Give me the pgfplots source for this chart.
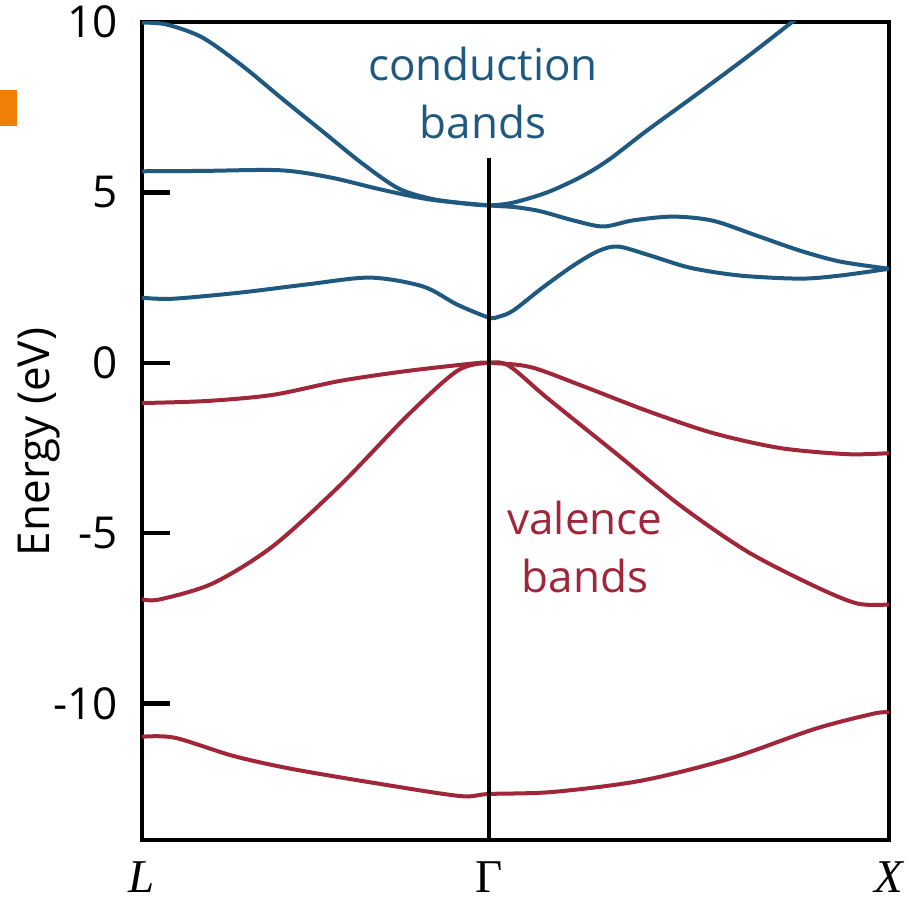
\documentclass[border=0pt]{standalone}
\usepackage{fontspec}
\setmainfont{Open Sans}
\newfontfamily\tnr{Liberation Serif}
\usepackage{pgfplots}
\pgfplotsset{compat=1.18}
\definecolor{cband}{RGB}{31,89,128}
\definecolor{vband}{RGB}{160,38,58}
\definecolor{orsq}{RGB}{240,128,10}
\begin{document}
\begin{tikzpicture}
\begin{axis}[
  scale only axis, width=373.5pt, height=409pt,
  xmin=0, xmax=1.866, ymin=-14, ymax=10,
  axis line style={line width=2.2pt},
  xtick={0,0.866,1.866},
  xticklabels={{\tnr\itshape L},{\tnr Γ},{\tnr\itshape X}},
  xtick style={draw=none},
  xticklabel style={font=\fontsize{23.5}{23.5}\selectfont, anchor=base, yshift=-26.5pt, inner sep=0pt},
  ytick={-10,-5,0,5,10},
  yticklabels={-10,-5,0,5,10},
  ytick pos=left,
  tick align=inside,
  major tick length=14pt,
  every tick/.style={line width=2.2pt, black},
  yticklabel style={font=\fontsize{22}{22}\selectfont, inner sep=0pt, xshift=-12pt},
  ylabel={Energy (eV)},
  ylabel style={font=\fontsize{22}{22}\selectfont, at={(rel axis cs:-0.1379,0.4866)}, anchor=center},
  every axis plot/.append style={line width=2pt, smooth, no markers},
]
% conduction bands
\addplot[cband] coordinates {(0,9.98) (0.06,9.93) (0.15,9.55) (0.25,8.72) (0.35,7.75) (0.45,6.8) (0.55,5.85) (0.64,5.12) (0.72,4.82) (0.80,4.68) (0.866,4.62) (0.927,4.7) (1.012,5.0) (1.094,5.44) (1.164,5.94) (1.262,6.82) (1.386,7.88) (1.511,8.97) (1.624,10.0) (1.66,10.33)};
\addplot[cband] coordinates {(0,5.62) (0.15,5.63) (0.345,5.65) (0.47,5.44) (0.595,5.09) (0.72,4.79) (0.866,4.62) (0.93,4.57) (0.994,4.45) (1.077,4.18) (1.152,4.0) (1.227,4.18) (1.326,4.29) (1.426,4.17) (1.536,3.73) (1.644,3.29) (1.744,2.97) (1.866,2.76)};
\addplot[cband] coordinates {(0,1.91) (0.077,1.88) (0.245,2.06) (0.412,2.3) (0.57,2.5) (0.702,2.24) (0.787,1.71) (0.866,1.33) (0.89,1.35) (0.927,1.53) (1.0,2.2) (1.077,2.85) (1.14,3.28) (1.19,3.41) (1.269,3.15) (1.369,2.79) (1.494,2.56) (1.644,2.47) (1.744,2.56) (1.866,2.76)};
% valence bands
\addplot[vband] coordinates {(0,-1.18) (0.162,-1.12) (0.327,-0.94) (0.495,-0.53) (0.662,-0.24) (0.827,-0.02) (0.866,0) (0.969,-0.12) (1.094,-0.65) (1.262,-1.41) (1.426,-2.06) (1.594,-2.5) (1.761,-2.68) (1.866,-2.65)};
\addplot[vband] coordinates {(0,-6.94) (0.045,-6.94) (0.177,-6.47) (0.327,-5.38) (0.495,-3.59) (0.662,-1.56) (0.787,-0.24) (0.866,0) (0.917,-0.09) (1.012,-1.03) (1.177,-2.59) (1.344,-4.18) (1.511,-5.53) (1.676,-6.53) (1.786,-7.06) (1.866,-7.09)};
\addplot[vband] coordinates {(0,-10.97) (0.082,-11.0) (0.227,-11.53) (0.372,-11.91) (0.592,-12.35) (0.794,-12.71) (0.866,-12.65) (1.027,-12.59) (1.247,-12.26) (1.466,-11.62) (1.681,-10.74) (1.829,-10.29) (1.866,-10.26)};
% Gamma line
\addplot[black, line width=2pt, sharp plot] coordinates {(0.866,-14) (0.866,6)};
\node[cband, align=center, font=\fontsize{22}{29}\selectfont] at (rel axis cs:0.4565,0.9126) {conduction\\bands};
\node[vband, align=center, font=\fontsize{22}{29}\selectfont] at (rel axis cs:0.593,0.3576) {valence\\bands};
\end{axis}
\fill[orsq] (-71pt,357pt) rectangle (-62.5pt,375pt);
\pgfresetboundingbox
\useasboundingbox (-71pt,-31.5pt) rectangle (385pt,420pt);
\end{tikzpicture}
\end{document}
